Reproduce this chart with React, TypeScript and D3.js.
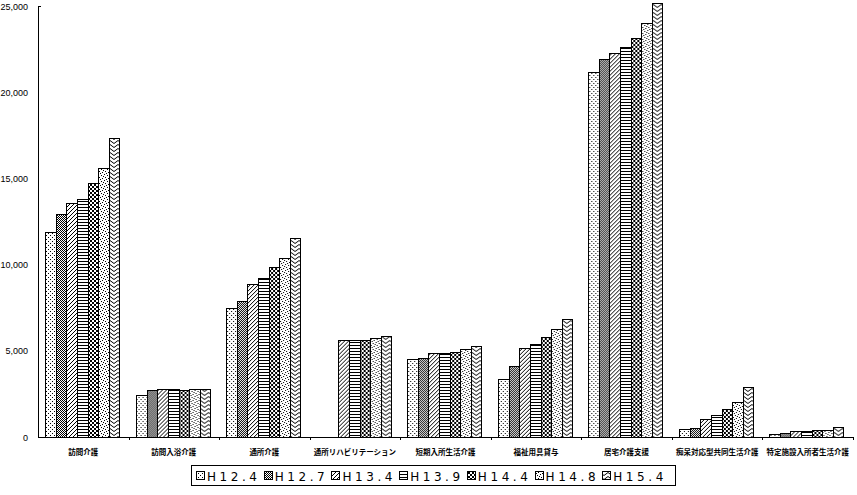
import React from "react";
import * as d3 from "d3";

const categories = [
  "訪問介護",
  "訪問入浴介護",
  "通所介護",
  "通所リハビリテーション",
  "短期入所生活介護",
  "福祉用具貸与",
  "居宅介護支援",
  "痴呆対応型共同生活介護",
  "特定施設入所者生活介護",
];

const seriesNames = ["H12.4", "H12.7", "H13.4", "H13.9", "H14.4", "H14.8", "H15.4"];

const h12_4 = [11900, 2450, 7500, null, 4500, 3350, 21200, 450, 200];
const h12_7 = [12950, 2700, 7900, null, 4600, 4100, 21900, 550, 260];
const h13_4 = [13550, 2800, 8900, 5600, 4850, 5150, 22250, 1050, 320];
const h13_9 = [13800, 2800, 9200, 5650, 4850, 5400, 22650, 1300, 320];
const h14_4 = [14750, 2750, 9850, 5650, 4950, 5800, 23150, 1650, 380];
const h14_8 = [15600, 2800, 10400, 5750, 5080, 6250, 24000, 2050, 430];
const h15_4 = [17350, 2800, 11550, 5830, 5250, 6850, 25200, 2900, 600];

const seriesValues: (number | null)[][] = [h12_4, h12_7, h13_4, h13_9, h14_4, h14_8, h15_4];

const yTicks = [0, 5000, 10000, 15000, 20000, 25000];

const W = 857;
const H = 495;
const plotLeft = 38;
const plotRight = 853;
const plotTop = 6;
const plotBottom = 437;

function Patterns() {
  return (
    <defs>
      <pattern id="p0" width="4" height="4" patternUnits="userSpaceOnUse">
        <rect width="4" height="4" fill="#fff" />
        <rect x="2" y="1" width="1" height="1" fill="#000" />
        <rect x="0" y="3" width="1" height="1" fill="#000" />
      </pattern>
      <pattern id="p1" width="2" height="2" patternUnits="userSpaceOnUse">
        <rect width="2" height="2" fill="#fff" />
        <rect x="0" y="0" width="1" height="1" fill="#000" />
        <rect x="1" y="1" width="1" height="1" fill="#000" />
      </pattern>
      <pattern id="p2" width="4" height="4" patternUnits="userSpaceOnUse">
        <rect width="4" height="4" fill="#fff" />
        <rect x="3" y="0" width="1" height="1" fill="#000" />
        <rect x="2" y="1" width="1" height="1" fill="#000" />
        <rect x="1" y="2" width="1" height="1" fill="#000" />
        <rect x="0" y="3" width="1" height="1" fill="#000" />
      </pattern>
      <pattern id="p3" width="4" height="3" patternUnits="userSpaceOnUse">
        <rect width="4" height="3" fill="#fff" />
        <rect x="0" y="0" width="4" height="1" fill="#000" />
      </pattern>
      <pattern id="p4" width="4" height="4" patternUnits="userSpaceOnUse">
        <rect width="4" height="4" fill="#fff" />
        <rect x="0" y="0" width="2" height="2" fill="#000" />
        <rect x="2" y="2" width="2" height="2" fill="#000" />
      </pattern>
      <pattern id="p5" width="6" height="6" patternUnits="userSpaceOnUse">
        <rect width="6" height="6" fill="#fff" />
        <rect x="0" y="0" width="1" height="1" fill="#000" />
        <rect x="3" y="1" width="1" height="1" fill="#000" />
        <rect x="1" y="3" width="1" height="1" fill="#000" />
        <rect x="4" y="4" width="1" height="1" fill="#000" />
        <rect x="5" y="2" width="1" height="1" fill="#000" />
        <rect x="2" y="5" width="1" height="1" fill="#000" />
      </pattern>
      <pattern id="p6" width="8" height="4" patternUnits="userSpaceOnUse">
        <rect width="8" height="4" fill="#fff" />
        <path d="M0,0.5 L4,3.5 L8,0.5" fill="none" stroke="#000" strokeWidth="1" />
      </pattern>
    </defs>
  );
}

export default function App() {
  const x0 = d3.scaleBand<string>().domain(categories).range([plotLeft, plotRight]);
  const bw = x0.bandwidth();
  const groupW = 74;
  const x1 = d3
    .scaleBand<string>()
    .domain(seriesNames)
    .range([(bw - groupW) / 2 - 1, (bw - groupW) / 2 - 1 + groupW]);
  const y = d3.scaleLinear().domain([0, 25000]).range([plotBottom, plotTop]);
  const fmt = d3.format(",");

  const legendX = 191;
  const legendY = 465;
  const legendW = 484;
  const legendH = 20;
  const entryW = (legendW - 10) / seriesNames.length;

  return (
    <div style={{ position: "fixed", left: 0, top: 0 }}>
      <svg width={W} height={H} style={{ display: "block", background: "#fff" }}>
        <Patterns />
        <rect width={W} height={H} fill="#fff" />
        {categories.map((c, ci) => (
          <g key={c} transform={`translate(${x0(c)},0)`}>
            {seriesNames.map((s, si) => {
              const v = seriesValues[si][ci];
              if (v == null) return null;
              const bx = Math.round(x1(s)!) + 0.5;
              const by = Math.round(y(v)) + 0.5;
              const bwid = Math.round(x1(s)! + x1.bandwidth()) - Math.round(x1(s)!);
              return (
                <rect
                  key={s}
                  x={bx}
                  y={by}
                  width={bwid}
                  height={plotBottom - by + 0.5}
                  fill={`url(#p${si})`}
                  stroke="#000"
                  strokeWidth={1}
                  shapeRendering="crispEdges"
                />
              );
            })}
          </g>
        ))}
        <line x1={plotLeft + 0.5} x2={plotLeft + 0.5} y1={plotTop} y2={plotBottom + 0.5} stroke="#000" shapeRendering="crispEdges" />
        <line x1={plotLeft} x2={plotLeft + 3} y1={plotTop + 0.5} y2={plotTop + 0.5} stroke="#000" shapeRendering="crispEdges" />
        {yTicks.map((t) => (
          <text
            key={t}
            x={28}
            y={y(t) + 3.5}
            textAnchor="end"
            fontFamily="Liberation Sans, Arial, sans-serif"
            fontSize={9}
            fill="#000"
          >
            {fmt(t)}
          </text>
        ))}
        <line x1={plotLeft} x2={plotRight} y1={plotBottom + 0.5} y2={plotBottom + 0.5} stroke="#000" shapeRendering="crispEdges" />
        {categories.map((c) => (
          <line
            key={"t" + c}
            x1={Math.round(x0(c)! + bw) + 0.5}
            x2={Math.round(x0(c)! + bw) + 0.5}
            y1={plotBottom}
            y2={plotBottom + 3}
            stroke="#000"
            shapeRendering="crispEdges"
          />
        ))}
        {categories.map((c) => (
          <text
            key={"l" + c}
            x={x0(c)! + bw / 2}
            y={455}
            textAnchor="middle"
            fontFamily="Noto Sans CJK JP, sans-serif"
            fontSize={7.5}
            fontWeight={700}
            fill="#000"
          >
            {c}
          </text>
        ))}
        <rect
          x={legendX + 0.5}
          y={legendY + 0.5}
          width={legendW}
          height={legendH}
          fill="#fff"
          stroke="#000"
          shapeRendering="crispEdges"
        />
        {seriesNames.map((s, si) => {
          const ex = legendX + 5 + si * entryW;
          return (
            <g key={"lg" + s}>
              <rect
                x={Math.round(ex) + 0.5}
                y={legendY + 6.5}
                width={8}
                height={8}
                fill={`url(#p${si})`}
                stroke="#000"
                shapeRendering="crispEdges"
              />
              <text
                x={ex + 11}
                y={legendY + 15.5}
                fontFamily="DejaVu Sans, sans-serif"
                fontSize={12}
                textLength={50}
                lengthAdjust="spacing"
                fill="#000"
              >
                {s}
              </text>
            </g>
          );
        })}
      </svg>
    </div>
  );
}
